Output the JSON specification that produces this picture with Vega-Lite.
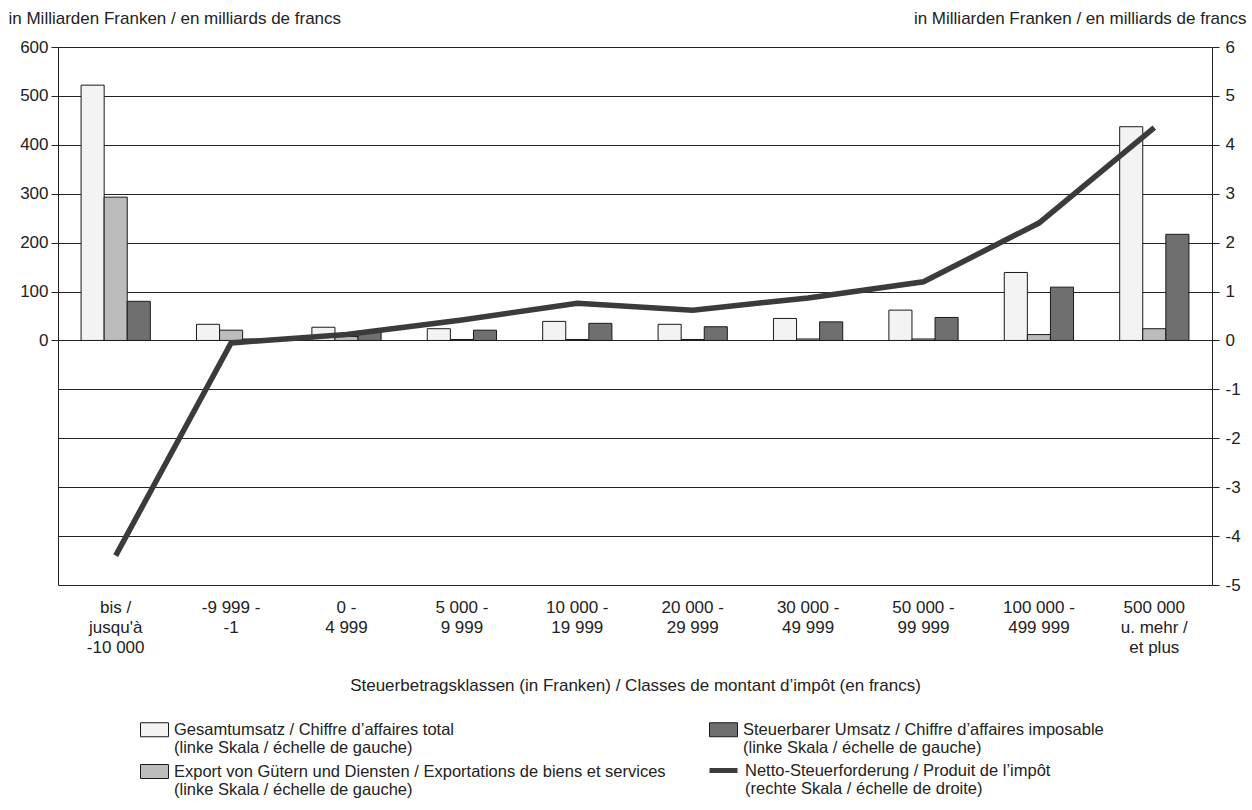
{
  "$schema": "https://vega.github.io/schema/vega-lite/v6.json",
  "width": 1154,
  "height": 538,
  "autosize": {"type": "none"},
  "padding": {"left": 58, "top": 47, "right": 40, "bottom": 225},
  "background": "white",
  "config": {
    "font": "Liberation Sans",
    "view": {"stroke": null},
    "axis": {"labelFont": "Liberation Sans", "titleFont": "Liberation Sans", "labelColor": "#222", "titleColor": "#222", "titleFontWeight": "normal"},
    "legend": {"labelFont": "Liberation Sans", "labelColor": "#222"}
  },
  "datasets": {
    "bars": [
      {"klasse": "bis /|jusqu'à|-10 000", "serie": "Gesamtumsatz", "wert": 522},
      {"klasse": "bis /|jusqu'à|-10 000", "serie": "Export", "wert": 293},
      {"klasse": "bis /|jusqu'à|-10 000", "serie": "Steuerbar", "wert": 80},
      {"klasse": "-9 999 -|-1", "serie": "Gesamtumsatz", "wert": 33},
      {"klasse": "-9 999 -|-1", "serie": "Export", "wert": 21},
      {"klasse": "-9 999 -|-1", "serie": "Steuerbar", "wert": 3},
      {"klasse": "0 -|4 999", "serie": "Gesamtumsatz", "wert": 27},
      {"klasse": "0 -|4 999", "serie": "Export", "wert": 8},
      {"klasse": "0 -|4 999", "serie": "Steuerbar", "wert": 19},
      {"klasse": "5 000 -|9 999", "serie": "Gesamtumsatz", "wert": 24},
      {"klasse": "5 000 -|9 999", "serie": "Export", "wert": 2},
      {"klasse": "5 000 -|9 999", "serie": "Steuerbar", "wert": 21},
      {"klasse": "10 000 -|19 999", "serie": "Gesamtumsatz", "wert": 39},
      {"klasse": "10 000 -|19 999", "serie": "Export", "wert": 2},
      {"klasse": "10 000 -|19 999", "serie": "Steuerbar", "wert": 35},
      {"klasse": "20 000 -|29 999", "serie": "Gesamtumsatz", "wert": 33},
      {"klasse": "20 000 -|29 999", "serie": "Export", "wert": 2},
      {"klasse": "20 000 -|29 999", "serie": "Steuerbar", "wert": 28},
      {"klasse": "30 000 -|49 999", "serie": "Gesamtumsatz", "wert": 45},
      {"klasse": "30 000 -|49 999", "serie": "Export", "wert": 3},
      {"klasse": "30 000 -|49 999", "serie": "Steuerbar", "wert": 38},
      {"klasse": "50 000 -|99 999", "serie": "Gesamtumsatz", "wert": 62},
      {"klasse": "50 000 -|99 999", "serie": "Export", "wert": 3},
      {"klasse": "50 000 -|99 999", "serie": "Steuerbar", "wert": 47},
      {"klasse": "100 000 -|499 999", "serie": "Gesamtumsatz", "wert": 139},
      {"klasse": "100 000 -|499 999", "serie": "Export", "wert": 12},
      {"klasse": "100 000 -|499 999", "serie": "Steuerbar", "wert": 109},
      {"klasse": "500 000|u. mehr /|et plus", "serie": "Gesamtumsatz", "wert": 437},
      {"klasse": "500 000|u. mehr /|et plus", "serie": "Export", "wert": 24},
      {"klasse": "500 000|u. mehr /|et plus", "serie": "Steuerbar", "wert": 217}
    ],
    "linie": [
      {"klasse": "bis /|jusqu'à|-10 000", "serie": "Netto", "wert": -4.4},
      {"klasse": "-9 999 -|-1", "serie": "Netto", "wert": -0.05},
      {"klasse": "0 -|4 999", "serie": "Netto", "wert": 0.12},
      {"klasse": "5 000 -|9 999", "serie": "Netto", "wert": 0.42},
      {"klasse": "10 000 -|19 999", "serie": "Netto", "wert": 0.76},
      {"klasse": "20 000 -|29 999", "serie": "Netto", "wert": 0.62},
      {"klasse": "30 000 -|49 999", "serie": "Netto", "wert": 0.87},
      {"klasse": "50 000 -|99 999", "serie": "Netto", "wert": 1.2},
      {"klasse": "100 000 -|499 999", "serie": "Netto", "wert": 2.4},
      {"klasse": "500 000|u. mehr /|et plus", "serie": "Netto", "wert": 4.35}
    ]
  },
  "encoding": {
    "x": {
      "field": "klasse", "type": "nominal", "sort": null,
      "scale": {"paddingInner": 0.4, "paddingOuter": 0.2},
      "axis": {
        "title": "Steuerbetragsklassen (in Franken) / Classes de montant d’impôt (en francs)",
        "labelExpr": "split(datum.label, '|')",
        "labelAngle": 0, "labelFontSize": 17, "labelLineHeight": 20, "labelPadding": 14,
        "labelBaseline": "top",
        "ticks": false, "domain": false, "grid": false,
        "titleFontSize": 17, "titlePadding": 22
      }
    }
  },
  "layer": [
    {
      "data": {"name": "bars"},
      "mark": {"type": "bar", "stroke": "#1a1a1a", "strokeWidth": 1},
      "encoding": {
        "xOffset": {"field": "serie", "type": "nominal", "sort": ["Gesamtumsatz", "Export", "Steuerbar"], "scale": {"paddingInner": 0, "paddingOuter": 0}},
        "y": {
          "field": "wert", "type": "quantitative",
          "scale": {"domain": [-500, 600], "nice": false, "zero": false},
          "axis": {
            "orient": "left", "values": [0, 100, 200, 300, 400, 500, 600],
            "grid": false, "domain": true, "domainColor": "#222", "tickColor": "#222", "tickSize": 7,
            "labelFontSize": 17, "labelPadding": 3,
            "title": "in Milliarden Franken / en milliards de francs",
            "titleAngle": 0, "titleAlign": "left", "titleBaseline": "middle",
            "titleX": -50, "titleY": -29, "titleFontSize": 17
          }
        },
        "fill": {
          "field": "serie", "type": "nominal",
          "scale": {"domain": ["Gesamtumsatz", "Export", "Steuerbar"], "range": ["#f3f3f3", "#bcbcbc", "#6f6f6f"]},
          "legend": {
            "orient": "none", "legendX": 82, "legendY": 668, "columns": 2, "columnPadding": 41, "rowPadding": 0,
            "title": null, "padding": 0,
            "labelExpr": "datum.label == 'Gesamtumsatz' ? ['Gesamtumsatz / Chiffre d’affaires total', '(linke Skala / échelle de gauche)'] : datum.label == 'Export' ? ['Export von Gütern und Diensten / Exportations de biens et services', '(linke Skala / échelle de gauche)'] : ['Steuerbarer Umsatz / Chiffre d’affaires imposable', '(linke Skala / échelle de gauche)']",
            "labelFontSize": 16.5, "labelLineHeight": 19, "labelBaseline": "middle", "labelOffset": 5, "labelLimit": 700,
            "symbolType": "M-1,-0.5H1V0.5H-1Z", "symbolSize": 784, "symbolStrokeColor": "#1a1a1a", "symbolStrokeWidth": 1
          }
        }
      }
    },
    {
      "data": {"name": "linie"},
      "mark": {"type": "line", "strokeWidth": 5.5, "strokeJoin": "miter"},
      "encoding": {
        "y": {
          "field": "wert", "type": "quantitative",
          "scale": {"domain": [-5, 6], "nice": false, "zero": false},
          "axis": {
            "orient": "right", "values": [-5, -4, -3, -2, -1, 0, 1, 2, 3, 4, 5, 6],
            "labelExpr": "datum.value < 0 ? '-' + abs(datum.value) : '' + datum.value",
            "grid": true, "gridColor": "#222", "gridWidth": 1, "gridOpacity": 1,
            "domain": true, "domainColor": "#222", "tickColor": "#222", "tickSize": 7,
            "labelFontSize": 17, "labelPadding": 6,
            "title": "in Milliarden Franken / en milliards de francs",
            "titleAngle": 0, "titleAlign": "right", "titleBaseline": "middle",
            "titleX": 34, "titleY": -29, "titleFontSize": 17
          }
        },
        "stroke": {
          "field": "serie", "type": "nominal",
          "scale": {"domain": ["Netto"], "range": ["#3b3b3b"]},
          "legend": {
            "orient": "none", "legendX": 649, "legendY": 707, "title": null, "padding": 0,
            "labelExpr": "['Netto-Steuerforderung / Produit de l’impôt', '(rechte Skala / échelle de droite)']",
            "labelFontSize": 16.5, "labelLineHeight": 19, "labelBaseline": "middle", "labelOffset": 5, "labelLimit": 700,
            "symbolType": "M-1,0H1", "symbolSize": 784, "symbolStrokeWidth": 5, "symbolStrokeColor": "#3b3b3b"
          }
        }
      }
    }
  ],
  "resolve": {"scale": {"y": "independent", "fill": "independent", "stroke": "independent"}}
}
